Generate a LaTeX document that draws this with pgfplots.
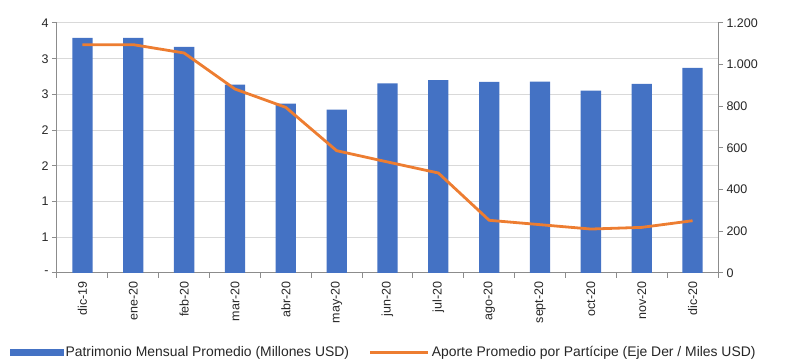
\documentclass[border=0pt]{standalone}
\usepackage{pgfplots}
\pgfplotsset{compat=1.18}
\usepackage{fontspec}
\setmainfont{Liberation Sans}
\definecolor{barblue}{HTML}{4472C4}
\definecolor{lineorange}{HTML}{ED7D31}
\definecolor{gridgray}{HTML}{D9D9D9}
\definecolor{axgray}{HTML}{8C8C8C}
\definecolor{txt}{HTML}{262626}
\begin{document}
\begin{tikzpicture}
\pgfplotsset{
  base/.style={
    scale only axis, width=661pt, height=250pt,
    xmin=-0.5, xmax=12.5,
    font=\fontsize{12.5}{14}\selectfont,
    tick label style={font=\fontsize{12.5}{14}\selectfont, text=txt},
    axis line style={axgray, line width=1pt},
    tick style={axgray, line width=1pt},
    tick align=outside,
    major tick length=5pt,
    minor tick length=5pt,
  }
}
\begin{axis}[base,
  at={(0,0)}, anchor=south west,
  ymin=0, ymax=3.5,
  ytick={0,0.5,1,1.5,2,2.5,3,3.5},
  yticklabels={-,1,1,2,2,3,3,4},
  axis x line*=bottom, axis y line*=left,
  ymajorgrids, grid style={gridgray, line width=1pt},
  xtick={0,1,2,3,4,5,6,7,8,9,10,11,12},
  xticklabels={dic-19,ene-20,feb-20,mar-20,abr-20,may-20,jun-20,jul-20,ago-20,sept-20,oct-20,nov-20,dic-20},
  xticklabel style={rotate=90, anchor=east},
  major x tick style={draw=none},
  minor xtick={-0.5,0.5,1.5,2.5,3.5,4.5,5.5,6.5,7.5,8.5,9.5,10.5,11.5,12.5},
  legend style={at={(axis description cs:0.494,-0.318)}, anchor=center, draw=none, fill=none,
    font=\fontsize{13.9}{15}\selectfont, text=txt,
    /tikz/every even column/.append style={column sep=18pt}},
  legend columns=2,
  legend cell align=left,
]
\addplot[ybar, bar width=20.3pt, fill=barblue, draw=none,
  legend image code/.code={\fill[barblue] (0pt,-3.5pt) rectangle (54pt,3.5pt);}]
  coordinates {(0,3.29) (1,3.29) (2,3.164) (3,2.636) (4,2.37) (5,2.286) (6,2.654) (7,2.70) (8,2.674) (9,2.678) (10,2.552) (11,2.646) (12,2.87)};
\addlegendentry{Patrimonio Mensual Promedio (Millones USD)}
\addlegendimage{lineorange, line width=2.8pt,
  legend image code/.code={\draw[lineorange, line width=2.8pt] (0pt,0pt) -- (58pt,0pt);}}
\addlegendentry{Aporte Promedio por Partícipe (Eje Der / Miles USD)}
\end{axis}
\begin{axis}[base,
  at={(0,0)}, anchor=south west,
  ymin=0, ymax=1200,
  axis y line*=right, axis x line=none,
  ytick={0,200,400,600,800,1000,1200},
  yticklabels={0,200,400,600,800,1.000,1.200},
]
\addplot[lineorange, line width=2.8pt, line join=round] coordinates {(0,1096) (1,1096) (2,1056) (3,883) (4,795) (5,587) (6,533) (7,480) (8,253) (9,232) (10,211) (11,219) (12,251)};
\end{axis}
\path (-57pt,-87pt) rectangle (728pt,273pt);
\end{tikzpicture}
\end{document}
